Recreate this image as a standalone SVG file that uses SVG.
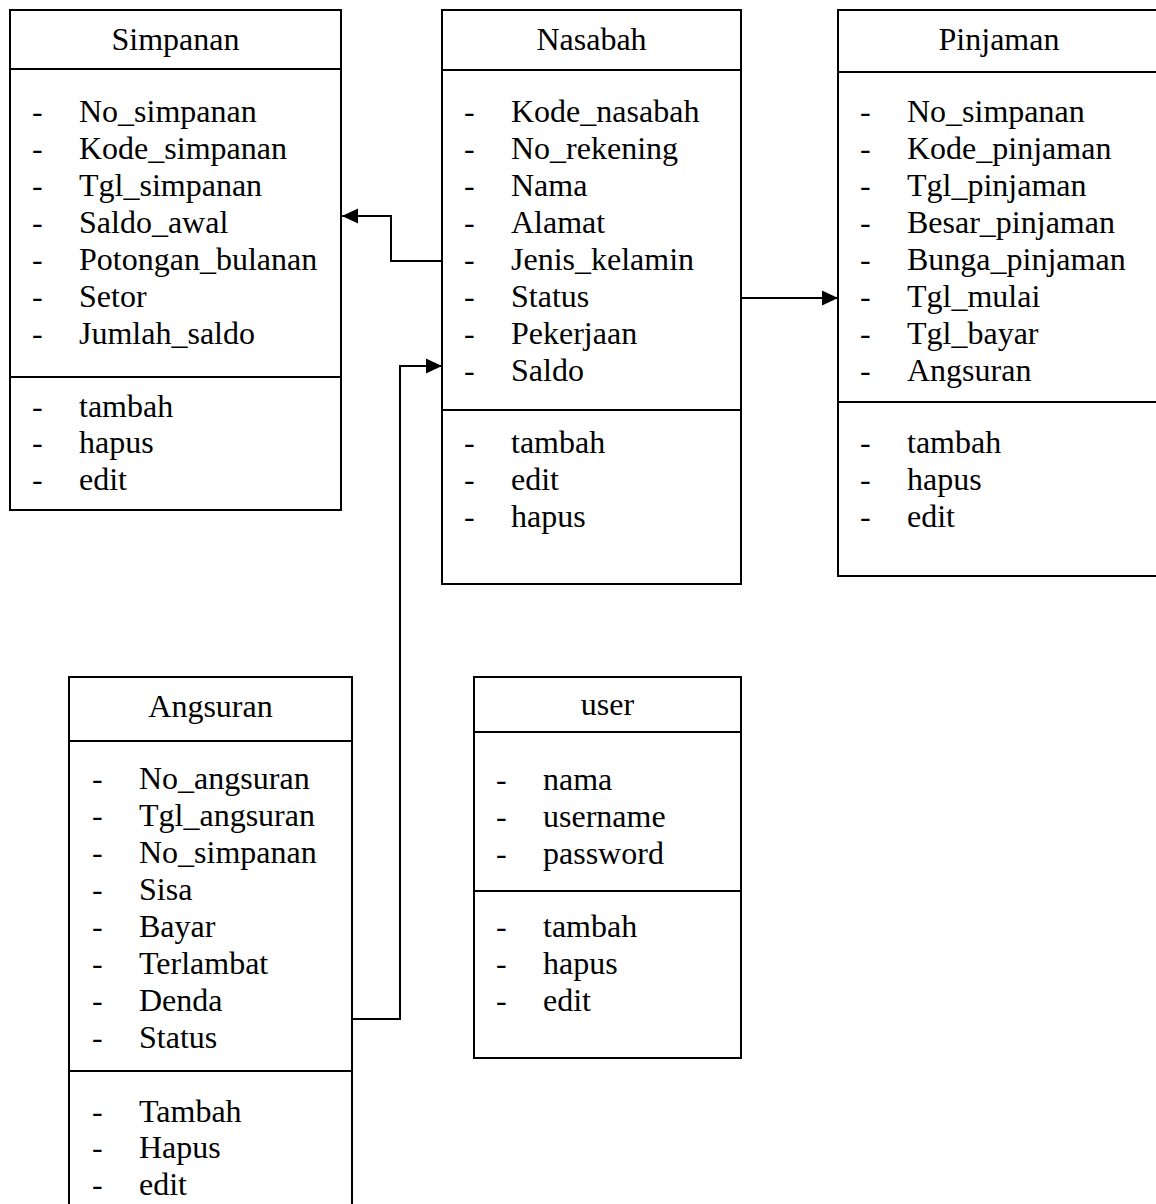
<svg xmlns="http://www.w3.org/2000/svg" width="1156" height="1204" viewBox="0 0 1156 1204">
<defs>
<style>
.box{fill:#fff;stroke:#000;stroke-width:2}
.ln{stroke:#000;stroke-width:2}
text{font-family:"Liberation Serif","Times New Roman",serif;font-size:32px;fill:#000}
.h{text-anchor:middle}
.con{fill:none;stroke:#000;stroke-width:2}
</style>
<marker id="arr" markerUnits="userSpaceOnUse" markerWidth="16" markerHeight="16" refX="16" refY="8" orient="auto">
<path d="M0,0.5 L16,8 L0,15.5 z" fill="#000"/>
</marker>
</defs>
<rect width="1156" height="1204" fill="#fff"/>

<g id="simpanan">
<rect class="box" x="10" y="10" width="331" height="500"/>
<line class="ln" x1="10" y1="69" x2="341" y2="69"/>
<line class="ln" x1="10" y1="377" x2="341" y2="377"/>
<text class="h" x="175.5" y="50">Simpanan</text>
<text x="32" y="122">-</text><text x="79" y="122">No_simpanan</text>
<text x="32" y="159">-</text><text x="79" y="159">Kode_simpanan</text>
<text x="32" y="196">-</text><text x="79" y="196">Tgl_simpanan</text>
<text x="32" y="233">-</text><text x="79" y="233">Saldo_awal</text>
<text x="32" y="270">-</text><text x="79" y="270">Potongan_bulanan</text>
<text x="32" y="307">-</text><text x="79" y="307">Setor</text>
<text x="32" y="344">-</text><text x="79" y="344">Jumlah_saldo</text>
<text x="32" y="417">-</text><text x="79" y="417">tambah</text>
<text x="32" y="453">-</text><text x="79" y="453">hapus</text>
<text x="32" y="490">-</text><text x="79" y="490">edit</text>
</g>

<g id="nasabah">
<rect class="box" x="442" y="10" width="299" height="574"/>
<line class="ln" x1="442" y1="70" x2="741" y2="70"/>
<line class="ln" x1="442" y1="410" x2="741" y2="410"/>
<text class="h" x="591.5" y="50">Nasabah</text>
<text x="464" y="122">-</text><text x="511" y="122">Kode_nasabah</text>
<text x="464" y="159">-</text><text x="511" y="159">No_rekening</text>
<text x="464" y="196">-</text><text x="511" y="196">Nama</text>
<text x="464" y="233">-</text><text x="511" y="233">Alamat</text>
<text x="464" y="270">-</text><text x="511" y="270">Jenis_kelamin</text>
<text x="464" y="307">-</text><text x="511" y="307">Status</text>
<text x="464" y="344">-</text><text x="511" y="344">Pekerjaan</text>
<text x="464" y="381">-</text><text x="511" y="381">Saldo</text>
<text x="464" y="453">-</text><text x="511" y="453">tambah</text>
<text x="464" y="490">-</text><text x="511" y="490">edit</text>
<text x="464" y="527">-</text><text x="511" y="527">hapus</text>
</g>

<g id="pinjaman">
<rect class="box" x="838" y="10" width="330" height="566"/>
<line class="ln" x1="838" y1="72" x2="1168" y2="72"/>
<line class="ln" x1="838" y1="402" x2="1168" y2="402"/>
<text class="h" x="999" y="50">Pinjaman</text>
<text x="860" y="122">-</text><text x="907" y="122">No_simpanan</text>
<text x="860" y="159">-</text><text x="907" y="159">Kode_pinjaman</text>
<text x="860" y="196">-</text><text x="907" y="196">Tgl_pinjaman</text>
<text x="860" y="233">-</text><text x="907" y="233">Besar_pinjaman</text>
<text x="860" y="270">-</text><text x="907" y="270">Bunga_pinjaman</text>
<text x="860" y="307">-</text><text x="907" y="307">Tgl_mulai</text>
<text x="860" y="344">-</text><text x="907" y="344">Tgl_bayar</text>
<text x="860" y="381">-</text><text x="907" y="381">Angsuran</text>
<text x="860" y="453">-</text><text x="907" y="453">tambah</text>
<text x="860" y="490">-</text><text x="907" y="490">hapus</text>
<text x="860" y="527">-</text><text x="907" y="527">edit</text>
</g>

<g id="angsuran">
<rect class="box" x="69" y="677" width="283" height="540"/>
<line class="ln" x1="69" y1="741" x2="352" y2="741"/>
<line class="ln" x1="69" y1="1071" x2="352" y2="1071"/>
<text class="h" x="210.5" y="717">Angsuran</text>
<text x="92" y="789">-</text><text x="139" y="789">No_angsuran</text>
<text x="92" y="826">-</text><text x="139" y="826">Tgl_angsuran</text>
<text x="92" y="863">-</text><text x="139" y="863">No_simpanan</text>
<text x="92" y="900">-</text><text x="139" y="900">Sisa</text>
<text x="92" y="937">-</text><text x="139" y="937">Bayar</text>
<text x="92" y="974">-</text><text x="139" y="974">Terlambat</text>
<text x="92" y="1011">-</text><text x="139" y="1011">Denda</text>
<text x="92" y="1048">-</text><text x="139" y="1048">Status</text>
<text x="92" y="1122">-</text><text x="139" y="1122">Tambah</text>
<text x="92" y="1158">-</text><text x="139" y="1158">Hapus</text>
<text x="92" y="1195">-</text><text x="139" y="1195">edit</text>
</g>

<g id="user">
<rect class="box" x="474" y="677" width="267" height="381"/>
<line class="ln" x1="474" y1="732" x2="741" y2="732"/>
<line class="ln" x1="474" y1="891" x2="741" y2="891"/>
<text class="h" x="607.5" y="715">user</text>
<text x="496" y="790">-</text><text x="543" y="790">nama</text>
<text x="496" y="827">-</text><text x="543" y="827">username</text>
<text x="496" y="864">-</text><text x="543" y="864">password</text>
<text x="496" y="937">-</text><text x="543" y="937">tambah</text>
<text x="496" y="974">-</text><text x="543" y="974">hapus</text>
<text x="496" y="1011">-</text><text x="543" y="1011">edit</text>
</g>

<g id="connectors">
<path class="con" d="M442,261 H391 V216 H342" marker-end="url(#arr)"/>
<path class="con" d="M741,298 H838" marker-end="url(#arr)"/>
<path class="con" d="M352,1019 H400 V366 H442" marker-end="url(#arr)"/>
</g>
</svg>
